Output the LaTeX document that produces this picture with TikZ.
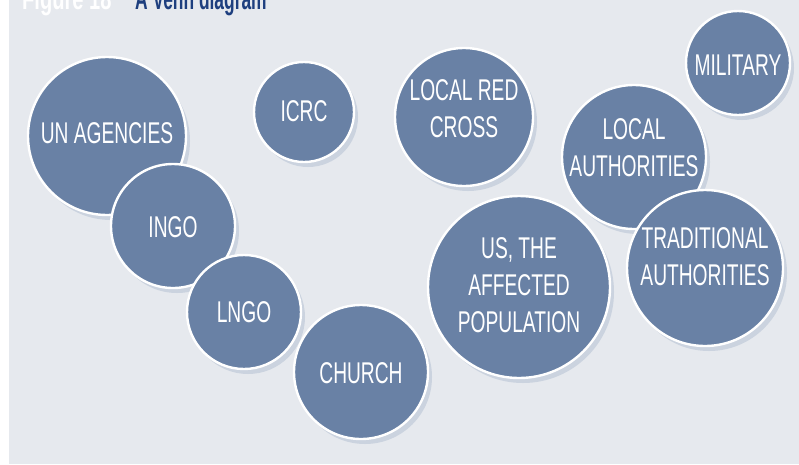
\documentclass[tikz,border=0pt]{standalone}
\usepackage{fontspec}
\setmainfont{Liberation Sans}
\newfontfamily\condfont[FakeStretch=0.64]{Liberation Sans}
\newfontfamily\headnumfont[FakeStretch=0.67]{Liberation Sans Bold}
\newfontfamily\headfont[FakeStretch=0.58]{Liberation Sans Bold}
\definecolor{panelgray}{HTML}{E6E9EE}
\definecolor{bubblefill}{HTML}{6981A5}
\definecolor{bubbleshade}{HTML}{CBD3DF}
\definecolor{titleblue}{HTML}{1E3F7F}
\tikzset{
  bubble/.style={circle, fill=bubblefill, draw=white, line width=2.4pt, inner sep=0pt},
  bubbletext/.style={text=white, font=\condfont\fontsize{30}{37}\selectfont, align=center, inner sep=0pt},
  titletext/.style={inner sep=0pt, anchor=base west}
}
% #1 name, #2 x, #3 y, #4 radius, #5 label, #6 label centre x, #7 label centre y
\newcommand\bubble[7]{%
  \fill[bubbleshade] (#2+4,#3+5) circle (#4pt);
  \node[bubble, minimum size=2*#4pt] (#1) at (#2,#3) {};
  \node[bubbletext] (#1-label) at (#6,#7) {#5};
}
\begin{document}
\begin{tikzpicture}[x=1pt,y=-1pt]
  \useasboundingbox (0,0) rectangle (799,464);
  \fill[white] (0,0) rectangle (799,464);
  \fill[panelgray] (9,0) rectangle (799,464);

  % heading
  \node[titletext, text=white, font=\headnumfont\fontsize{30}{36}\selectfont] (fignum) at (22,9) {Figure 18};
  \node[titletext, text=titleblue, font=\headfont\fontsize{30}{36}\selectfont] (figtitle) at (135,9) {A Venn diagram};

  % circles, back to front
  \bubble{un}{107}{136}{79}{UN AGENCIES}{107}{133}
  \bubble{ingo}{173}{226}{62}{INGO}{173}{227}
  \bubble{lngo}{244}{312}{57}{LNGO}{244}{312}
  \bubble{church}{361}{372}{67}{CHURCH}{361}{373}
  \bubble{icrc}{304}{112}{50}{ICRC}{304}{111}
  \bubble{lrc}{464}{117}{69}{LOCAL RED\\CROSS}{464}{109}
  \bubble{mil}{738}{63}{52}{MILITARY}{738}{65}
  \bubble{la}{634}{157}{72}{LOCAL\\AUTHORITIES}{634}{148}
  \bubble{trad}{705}{268}{78}{TRADITIONAL\\AUTHORITIES}{705}{257}
  \bubble{us}{519}{287}{91}{US, THE\\AFFECTED\\POPULATION}{519}{285}
\end{tikzpicture}
\end{document}
